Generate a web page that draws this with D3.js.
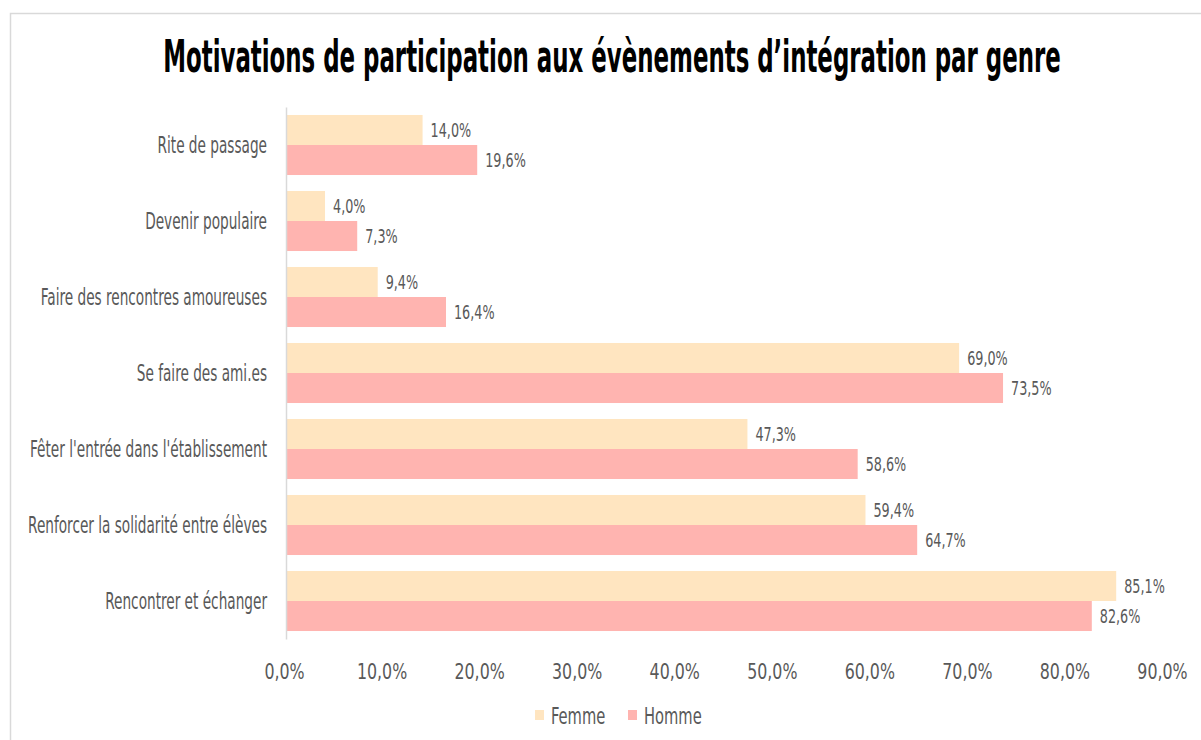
<!DOCTYPE html>
<html>
<head>
<meta charset="utf-8">
<title>Motivations de participation</title>
<style>
  body {margin: 0; background: #fff;}
  text {font-family: "DejaVu Sans Condensed", "DejaVu Sans", sans-serif; fill: #595959;}
  .title {font-weight: bold; fill: #000;}
</style>
</head>
<body>
<svg id="chart" width="1201" height="740"></svg>
<script src="https://cdn.jsdelivr.net/npm/d3@7"></script>
<script>
var categories = ["Rite de passage", "Devenir populaire", "Faire des rencontres amoureuses",
  "Se faire des ami.es", "Fêter l'entrée dans l'établissement",
  "Renforcer la solidarité entre élèves", "Rencontrer et échanger"];
var series = ["Femme", "Homme"];
var femme = [14.0, 4.0, 9.4, 69.0, 47.3, 59.4, 85.1];
var homme = [19.6, 7.3, 16.4, 73.5, 58.6, 64.7, 82.6];
var xTicks = [0, 10, 20, 30, 40, 50, 60, 70, 80, 90];

var colors = {Femme: "#ffe5c0", Homme: "#ffb4b0"};
var fr = d3.formatLocale({decimal: ",", thousands: " ", grouping: [3], currency: ["", " €"]});
var pct = function(v){ return fr.format(".1f")(v) + "%"; };

// squeeze text horizontally, the original uses a narrow gothic font
function condense(sel, k){
  sel.each(function(){
    var w = this.getComputedTextLength();
    d3.select(this).attr("textLength", w * k).attr("lengthAdjust", "spacingAndGlyphs");
  });
}

var svg = d3.select("#chart");

// frame
svg.append("rect").attr("x", 10.5).attr("y", 13.5).attr("width", 1300).attr("height", 800)
  .attr("fill", "none").attr("stroke", "#d9d9d9").attr("stroke-width", 1.5);

var title = svg.append("g").attr("transform", "translate(612,72)")
  .append("text").attr("class", "title")
  .attr("text-anchor", "middle")
  .attr("font-size", 44)
  .text("Motivations de participation aux évènements d’intégration par genre");
var tw = title.node().getComputedTextLength();
title.attr("transform", "scale(" + (898 / tw) + ",1)");

var x = d3.scaleLinear().domain([0, 90]).range([286, 1164]);
var y = d3.scaleBand().domain(categories).range([107, 639]).paddingInner(0.21).paddingOuter(0.105);
var ySub = d3.scaleBand().domain(series).range([0, y.bandwidth()]);

var rows = categories.map(function(c, i){
  return {cat: c, vals: [{s: "Femme", v: femme[i]}, {s: "Homme", v: homme[i]}]};
});

var g = svg.selectAll("g.row").data(rows).enter().append("g")
  .attr("class", "row")
  .attr("transform", function(d){ return "translate(0," + y(d.cat) + ")"; });

g.selectAll("rect").data(function(d){ return d.vals; }).enter().append("rect")
  .attr("x", x(0))
  .attr("y", function(d){ return ySub(d.s); })
  .attr("width", function(d){ return x(d.v) - x(0); })
  .attr("height", ySub.bandwidth())
  .attr("fill", function(d){ return colors[d.s]; });

g.selectAll("text.val").data(function(d){ return d.vals; }).enter().append("text")
  .attr("class", "val")
  .attr("x", function(d){ return x(d.v) + 8; })
  .attr("y", function(d){ return ySub(d.s) + ySub.bandwidth() / 2; })
  .attr("dy", "0.36em")
  .attr("font-size", 20)
  .text(function(d){ return pct(d.v); })
  .call(condense, 0.71);

// category axis
var yAxis = svg.append("g").attr("transform", "translate(" + x(0) + ",0)")
  .call(d3.axisLeft(y).tickSize(0).tickPadding(19));
yAxis.attr("font-family", null).attr("font-size", null);
yAxis.select(".domain").attr("stroke", "#d9d9d9").attr("stroke-width", 1.5);
yAxis.selectAll("text").attr("font-size", 23).attr("fill", "#595959").attr("dy", "0.36em")
  .call(condense, 0.66);

// value axis
var xAxis = svg.append("g").attr("transform", "translate(0,639)")
  .call(d3.axisBottom(x).tickValues(xTicks).tickSize(0).tickPadding(24).tickFormat(pct));
xAxis.attr("font-family", null).attr("font-size", null);
xAxis.select(".domain").remove();
xAxis.selectAll("text").attr("font-size", 22).attr("fill", "#595959").attr("dx", -2)
  .call(condense, 0.8);

// legend
var legX = {Femme: 535, Homme: 628};
var items = svg.selectAll("g.leg").data(series).enter().append("g")
  .attr("class", "leg")
  .attr("transform", function(d){ return "translate(" + legX[d] + ",716)"; });
items.append("rect").attr("x", 0).attr("y", -6).attr("width", 9).attr("height", 10)
  .attr("fill", function(d){ return colors[d]; });
items.append("text").attr("x", 16).attr("y", 8).attr("font-size", 23)
  .text(function(d){ return d; })
  .call(condense, 0.71);
</script>
</body>
</html>
